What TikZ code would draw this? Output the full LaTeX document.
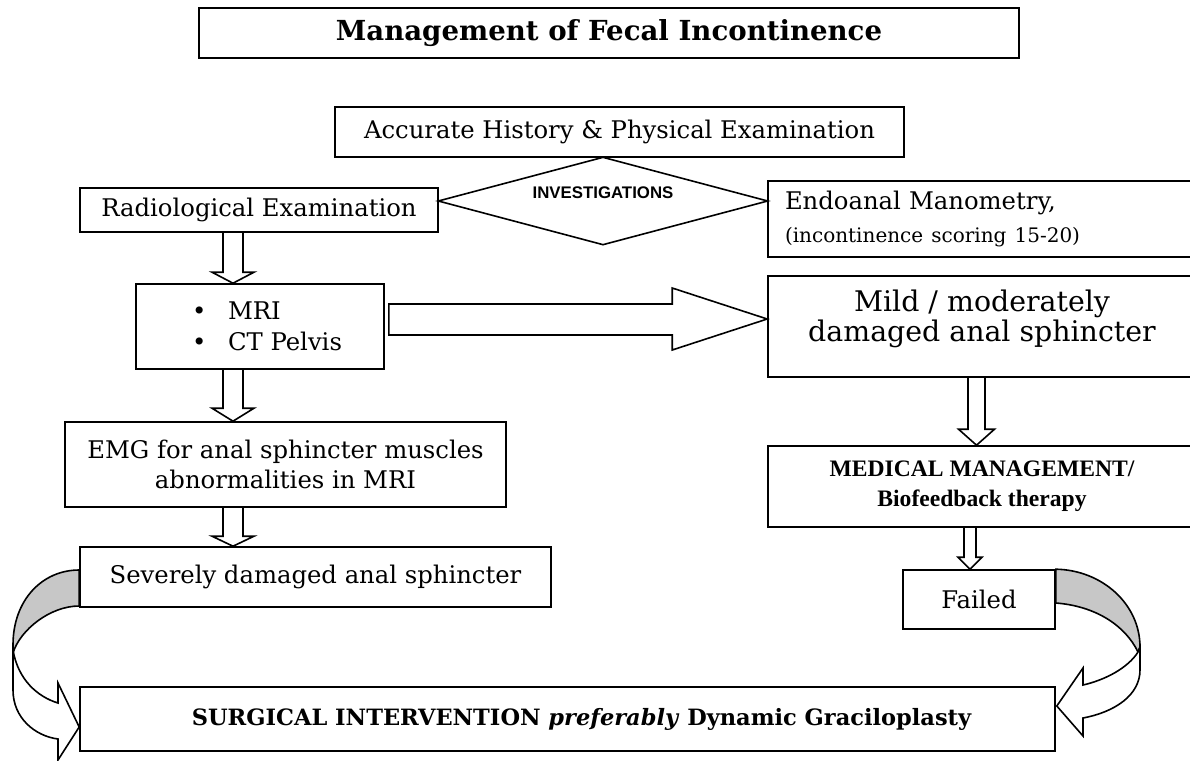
\documentclass[tikz,border=0pt]{standalone}
\usepackage{fontspec}
\setmainfont{DejaVu Serif}
\newfontfamily\timesfont{Liberation Serif}
\newfontfamily\arialfont{Liberation Sans}
\usetikzlibrary{calc,shapes.geometric}

\newcommand{\blockdown}[6]{%
	\draw[blockarrow] (#1-#4,0 |- #2.south) -- ($(#1-#4,0 |- #3.north)+(0,-#6)$) -- ($(#1-#5,0 |- #3.north)+(0,-#6)$) -- (#1,0 |- #3.north) -- ($(#1+#5,0 |- #3.north)+(0,-#6)$) -- ($(#1+#4,0 |- #3.north)+(0,-#6)$) -- (#1+#4,0 |- #2.south);%
}

\begin{document}
\begin{tikzpicture}[x=0.5pt, y=-0.5pt,
		box/.style={draw, line width=0.8pt, rectangle, inner sep=0pt, align=center, font=\fontsize{12.15}{15}\selectfont},
		blockarrow/.style={line width=0.8pt, draw},
		ribbon/.style={line width=0.8pt, draw, fill=#1}]
			\useasboundingbox (0,0) rectangle (1190,761);

			\node[box, minimum width=410pt, minimum height=25pt, font=\bfseries\fontsize{13.8}{16}\selectfont] (title) at (609,33) {Management of Fecal Incontinence};
			\node[box, minimum width=284.5pt, minimum height=25pt] (hist) at (619.5,132) {Accurate History \& Physical Examination};
			\node[diamond, draw, line width=0.8pt, minimum width=165pt, minimum height=44pt, inner sep=0pt, label={[font=\arialfont\bfseries\fontsize{8.4}{10}\selectfont, yshift=4pt]center:INVESTIGATIONS}] (inv) at (603,201) {};
			\node[box, minimum width=179pt, minimum height=22pt] (radio) at (259,210) {Radiological Examination};
			\node[box, minimum width=214pt, minimum height=38pt, text width=197pt, inner xsep=8.5pt, align=left] (endo) at (982,219) {Endoanal Manometry,\\[1.5pt]{\fontsize{10}{12}\selectfont (incontinence scoring 15-20)}};
			\node[box, minimum width=124pt, minimum height=42.5pt, align=left] (mri) at (260,326.5) {\hspace*{7pt}\makebox[18pt][l]{\textbullet}MRI\\[0.5pt]\hspace*{7pt}\makebox[18pt][l]{\textbullet}CT Pelvis};
			\node[box, minimum width=220.5pt, minimum height=42.5pt] (emg) at (285.5,464.5) {EMG for anal sphincter muscles\\abnormalities in MRI};
			\node[box, minimum width=235.5pt, minimum height=30pt] (sev) at (315.5,577) {Severely damaged anal sphincter};
			\node[box, minimum width=214pt, minimum height=50.5pt] (mild) at (982,326.5) {};
			\node[font=\fontsize{14.2}{15}\selectfont, align=center, inner sep=0pt] (mildtext) at (982,319) {Mild / moderately\\damaged anal sphincter};
			\node[box, minimum width=214pt, minimum height=40.5pt, font=\timesfont\bfseries\fontsize{11.8}{15}\selectfont] (med) at (982,486.5) {MEDICAL MANAGEMENT/\\Biofeedback therapy};
			\node[box, minimum width=76pt, minimum height=29.5pt] (fail) at (979,599.5) {Failed};
			\node[box, minimum width=487.5pt, minimum height=32pt, font=\bfseries\fontsize{11.25}{13}\selectfont] (surg) at (567.5,719) {\hspace*{14pt}SURGICAL INTERVENTION \textit{preferably} Dynamic Graciloplasty};

			\blockdown{233}{radio}{mri}{10}{21}{11}
			\blockdown{233}{mri}{emg}{10}{21}{13}
			\blockdown{233}{emg}{sev}{10}{21}{10}
			\blockdown{976.5}{mild}{med}{8.5}{18}{16}
			\blockdown{970}{med}{fail}{6}{12}{12}

			\draw[blockarrow] ($(mri.east)+(4,-22.5)$) -- ($(mild.west)+(-95,-22.5)$) -- ($(mild.west)+(-95,-38.5)$) -- ($(mild.west)+(0,-7.5)$) -- ($(mild.west)+(-95,23.5)$) -- ($(mild.west)+(-95,8.5)$) -- ($(mri.east)+(4,8.5)$) -- cycle;

			\draw[ribbon=black!22] ($(sev.west)+(0,-7)$) .. controls ($(sev.west)+(-37,-7)$) and (13,600) .. (13,645) -- (13,653) .. controls (20,630) and (50,606) .. ($(sev.west)+(0,29)$) -- cycle;
			\draw[ribbon=white] (13,650) -- (13,690) .. controls (13,718) and (35,736) .. (58,739) -- (58,760) -- ($(surg.west)+(0,8)$) -- (58,683) -- (58,703) .. controls (38,697) and (18,680) .. (13,650);

			\draw[ribbon=black!22] (fail.north east) .. controls (1102,570) and (1140,604) .. (1140,647) -- (1138,652) .. controls (1125,625) and (1095,606) .. ($(fail.east)+(0,3.5)$) -- cycle;
			\draw[ribbon=white] (1140,647) -- (1140,670) .. controls (1140,695) and (1115,712) .. (1083,718) -- (1083,736) -- ($(surg.east)+(1,-13)$) -- (1083,668) -- (1083,685) .. controls (1105,680) and (1128,668) .. (1138,652) -- cycle;
		\end{tikzpicture}
\end{document}
